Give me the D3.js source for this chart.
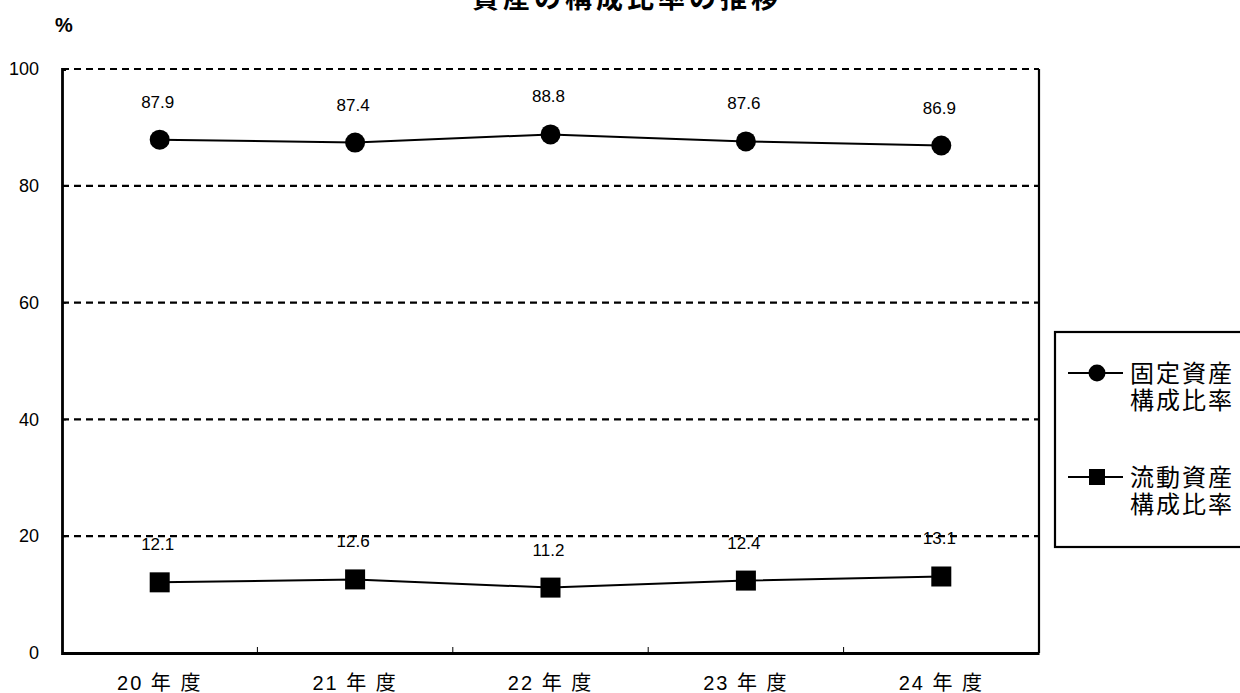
<!DOCTYPE html>
<html>
<head>
<meta charset="utf-8">
<script src="https://cdn.jsdelivr.net/npm/d3@7"></script>
<style>
  html, body { margin: 0; padding: 0; background: #fff; }
  svg { display: block; }
  text { font-family: "Liberation Sans", Arial, "Noto Sans CJK JP", sans-serif; fill: #000; }
  .cjk { font-family: "Liberation Sans", "Noto Sans CJK JP", sans-serif; }
</style>
</head>
<body>
<svg id="chart" width="1240" height="693"></svg>
<script>
// 年度 categories and the two composition-ratio series (%)
const years = ["20 年 度", "21 年 度", "22 年 度", "23 年 度", "24 年 度"];
const fixedAssets = [87.9, 87.4, 88.8, 87.6, 86.9];
const currentAssets = [12.1, 12.6, 11.2, 12.4, 13.1];
const yTicks = [0, 20, 40, 60, 80, 100];
const seriesNames = [["固定資産", "構成比率"], ["流動資産", "構成比率"]];
const titleText = "資産の構成比率の推移";

const svg = d3.select("#chart");
const plot = { left: 62, right: 1039, top: 69, bottom: 653 };

const x = d3.scaleBand().domain(years).range([plot.left, plot.right]);
const y = d3.scaleLinear().domain([0, 100]).range([plot.bottom, plot.top]);

// Title (runs off the top edge of the page)
svg.append("text")
  .attr("class", "cjk")
  .attr("x", 627).attr("y", 8)
  .attr("text-anchor", "middle")
  .attr("font-size", 27).attr("font-weight", "bold")
  .attr("letter-spacing", 4)
  .text(titleText);

// Unit label
svg.append("text")
  .attr("x", 64).attr("y", 32)
  .attr("text-anchor", "middle")
  .attr("font-size", 20).attr("font-weight", "bold")
  .text("%");

// Dotted horizontal gridlines (including the 100 line at the top)
svg.append("g").selectAll("line")
  .data(yTicks.filter(d => d > 0))
  .join("line")
  .attr("x1", plot.left).attr("x2", plot.right)
  .attr("y1", d => y(d)).attr("y2", d => y(d))
  .attr("stroke", "#000").attr("stroke-width", 2.2)
  .attr("stroke-dasharray", "7,5");

// Right border of the plot area
svg.append("line")
  .attr("x1", plot.right).attr("x2", plot.right)
  .attr("y1", plot.top).attr("y2", plot.bottom)
  .attr("stroke", "#000").attr("stroke-width", 2.2);

// Y axis
const yAxis = svg.append("g")
  .attr("transform", `translate(${plot.left},0)`)
  .call(d3.axisLeft(y).tickValues(yTicks).tickSize(-4).tickPadding(23));
yAxis.select(".domain").attr("stroke-width", 2.8);
yAxis.selectAll(".tick line").attr("stroke-width", 1);
yAxis.selectAll(".tick text")
  .attr("font-size", 18)
  .attr("font-family", "Liberation Sans, Arial, sans-serif");

// X axis with ticks between categories
const xAxis = svg.append("g")
  .attr("transform", `translate(0,${plot.bottom})`)
  .call(d3.axisBottom(x).tickSize(0));
xAxis.select(".domain").attr("stroke-width", 2.8);
xAxis.selectAll(".tick text")
  .attr("class", "cjk")
  .attr("font-size", 20)
  .attr("letter-spacing", 2)
  .attr("y", 37)
  .attr("dy", null);
svg.append("g").selectAll("line")
  .data(years.slice(1))
  .join("line")
  .attr("x1", d => x(d)).attr("x2", d => x(d))
  .attr("y1", plot.bottom).attr("y2", plot.bottom - 6)
  .attr("stroke", "#000").attr("stroke-width", 1);

const cx = d => x(d) + x.bandwidth() / 2;
const line = d3.line().x(d => cx(d[0])).y(d => y(d[1]));

function drawSeries(values, shape) {
  const pts = years.map((yr, i) => [yr, values[i]]);
  const g = svg.append("g");
  g.append("path")
    .attr("d", line(pts))
    .attr("fill", "none").attr("stroke", "#000").attr("stroke-width", 2);
  if (shape === "circle") {
    g.selectAll("circle").data(pts).join("circle")
      .attr("cx", d => cx(d[0])).attr("cy", d => y(d[1]))
      .attr("r", 10).attr("fill", "#000");
  } else {
    g.selectAll("rect").data(pts).join("rect")
      .attr("x", d => cx(d[0]) - 10).attr("y", d => y(d[1]) - 10)
      .attr("width", 20).attr("height", 20).attr("fill", "#000");
  }
  g.selectAll("text").data(pts).join("text")
    .attr("x", d => cx(d[0]) - 2)
    .attr("y", d => y(d[1]) - 32)
    .attr("text-anchor", "middle")
    .attr("font-size", 17)
    .text(d => d[1].toFixed(1));
}
drawSeries(fixedAssets, "circle");
drawSeries(currentAssets, "square");

// Legend
const legend = svg.append("g");
legend.append("rect")
  .attr("x", 1055).attr("y", 332)
  .attr("width", 200).attr("height", 215)
  .attr("fill", "none").attr("stroke", "#000").attr("stroke-width", 2.2);

const legendRows = [
  { names: seriesNames[0], shape: "circle", y: 373 },
  { names: seriesNames[1], shape: "square", y: 477 }
];
legendRows.forEach(r => {
  legend.append("line")
    .attr("x1", 1068).attr("x2", 1123)
    .attr("y1", r.y).attr("y2", r.y)
    .attr("stroke", "#000").attr("stroke-width", 2);
  if (r.shape === "circle") {
    legend.append("circle").attr("cx", 1097).attr("cy", r.y).attr("r", 8.5).attr("fill", "#000");
  } else {
    legend.append("rect").attr("x", 1089).attr("y", r.y - 8).attr("width", 16).attr("height", 16).attr("fill", "#000");
  }
  r.names.forEach((n, i) => {
    legend.append("text")
      .attr("class", "cjk")
      .attr("x", 1130).attr("y", r.y + 9 + i * 27)
      .attr("font-size", 24)
      .attr("letter-spacing", 2)
      .text(n);
  });
});
</script>
</body>
</html>
